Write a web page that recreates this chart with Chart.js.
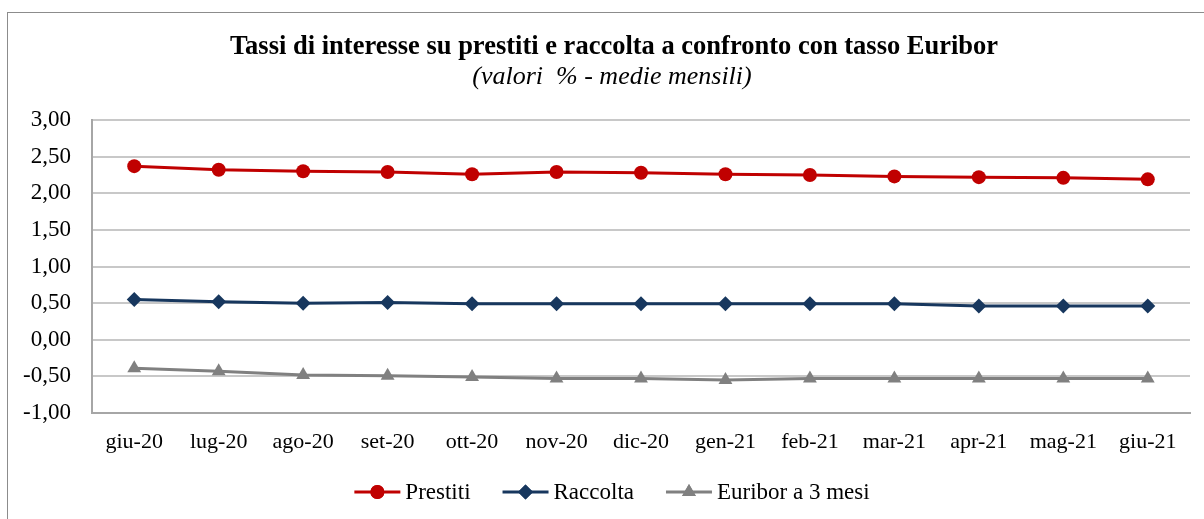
<!DOCTYPE html>
<html>
<head>
<meta charset="utf-8">
<script src="https://cdn.jsdelivr.net/npm/chart.js@4.4.1/dist/chart.umd.min.js"></script>
<style>
  html, body { margin: 0; padding: 0; background: #ffffff; }
  #wrap { position: relative; width: 1204px; height: 519px; }
</style>
</head>
<body>
<div id="wrap"><canvas id="c" width="1204" height="519"></canvas></div>
<script>
const categories = ['giu-20','lug-20','ago-20','set-20','ott-20','nov-20','dic-20','gen-21','feb-21','mar-21','apr-21','mag-21','giu-21'];
const prestiti = [2.37, 2.32, 2.30, 2.29, 2.26, 2.29, 2.28, 2.26, 2.25, 2.23, 2.22, 2.21, 2.19];
const raccolta = [0.55, 0.52, 0.50, 0.51, 0.49, 0.49, 0.49, 0.49, 0.49, 0.49, 0.46, 0.46, 0.46];
const euribor = [-0.39, -0.43, -0.48, -0.49, -0.51, -0.53, -0.53, -0.55, -0.53, -0.53, -0.53, -0.53, -0.53];
const seriesNames = ['Prestiti', 'Raccolta', 'Euribor a 3 mesi'];
const titleText = 'Tassi di interesse su prestiti e raccolta a confronto con tasso Euribor';
const subtitleText = '(valori  % - medie mensili)';

const FONT = '"Liberation Serif", "Times New Roman", serif';
const colors = ['#c00000', '#17375e', '#808080'];
const styles = ['circle', 'rectRot', 'triangle'];
const radii = [7, 7.5, 8];

const decor = {
  id: 'decor',
  beforeDraw(chart) {
    const ctx = chart.ctx;
    ctx.save();
    ctx.strokeStyle = '#8c8c8c';
    ctx.lineWidth = 1;
    ctx.strokeRect(7.5, 12.5, 1300, 520);
    ctx.restore();
  },
  afterDraw(chart) {
    const ctx = chart.ctx;
    ctx.save();
    ctx.fillStyle = '#000';
    ctx.textAlign = 'center';
    ctx.textBaseline = 'middle';
    ctx.font = 'bold 26.5px ' + FONT;
    ctx.fillText(titleText, 614, 47);
    ctx.font = 'italic 26px ' + FONT;
    ctx.fillText(subtitleText, 612, 77);

    // legend
    ctx.font = '23px ' + FONT;
    const lineLen = 46, gapText = 5, gapItem = 32;
    const widths = seriesNames.map(n => ctx.measureText(n).width);
    let total = 0;
    widths.forEach((w, i) => { total += lineLen + gapText + w + (i < widths.length - 1 ? gapItem : 0); });
    let x = 612 - total / 2;
    const y = 492;
    ctx.textAlign = 'left';
    seriesNames.forEach((n, i) => {
      ctx.strokeStyle = colors[i];
      ctx.lineWidth = 3;
      ctx.beginPath();
      ctx.moveTo(x, y);
      ctx.lineTo(x + lineLen, y);
      ctx.stroke();
      ctx.fillStyle = colors[i];
      Chart.helpers.drawPoint(ctx, { pointStyle: styles[i], radius: radii[i], rotation: 0, borderWidth: 0 }, x + lineLen / 2, y);
      ctx.fill();
      ctx.fillStyle = '#000';
      ctx.fillText(n, x + lineLen + gapText, y + 1);
      x += lineLen + gapText + widths[i] + gapItem;
    });
    ctx.restore();
  }
};

const dataSets = [prestiti, raccolta, euribor];
new Chart(document.getElementById('c'), {
  type: 'line',
  data: {
    labels: categories,
    datasets: dataSets.map((d, i) => ({
      label: seriesNames[i],
      data: d,
      borderColor: colors[i],
      backgroundColor: colors[i],
      pointBackgroundColor: colors[i],
      pointBorderColor: colors[i],
      pointBorderWidth: 0,
      borderWidth: 3,
      pointStyle: styles[i],
      pointRadius: radii[i],
      tension: 0
    }))
  },
  options: {
    responsive: false,
    animation: false,
    events: [],
    layout: { padding: { left: 0, right: 14, top: 120, bottom: 46 } },
    plugins: {
      legend: { display: false },
      title: { display: false },
      tooltip: { enabled: false }
    },
    scales: {
      x: {
        offset: true,
        grid: { display: false, drawTicks: false },
        border: { display: true, color: '#a6a6a6', width: 2 },
        ticks: { color: '#000', font: { family: FONT, size: 22 }, padding: 16, maxRotation: 0, autoSkip: false },
        afterFit(s) { s.height = 60; }
      },
      y: {
        min: -1, max: 3,
        grid: { color: '#c8c8c8', lineWidth: 2, drawTicks: false },
        border: { display: true, color: '#a6a6a6', width: 2 },
        ticks: {
          stepSize: 0.5,
          color: '#000',
          font: { family: FONT, size: 23 },
          padding: 21,
          callback: v => v.toFixed(2).replace('.', ',')
        },
        afterFit(s) { s.width = 92; }
      }
    }
  },
  plugins: [decor]
});
</script>
</body>
</html>
